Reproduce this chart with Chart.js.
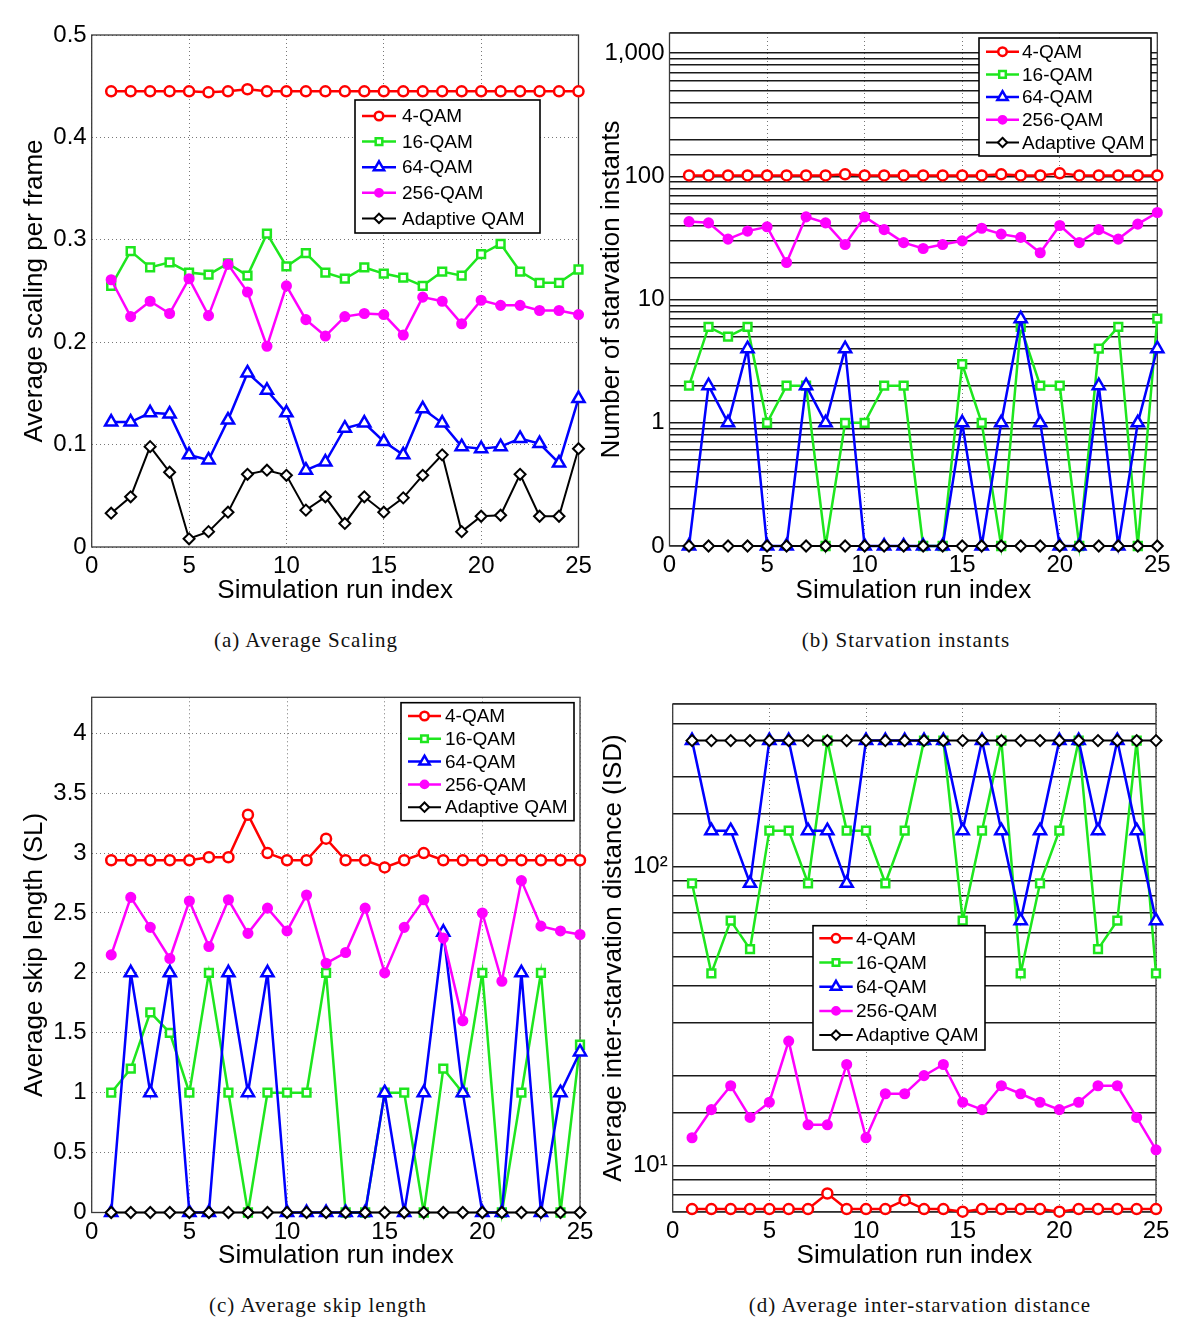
<!DOCTYPE html>
<html>
<head>
<meta charset="utf-8">
<script src="https://cdn.jsdelivr.net/npm/chart.js@4.4.1/dist/chart.umd.min.js"></script>
<style>
  body { margin: 0; background: #fff; width: 1200px; height: 1339px; position: relative; overflow: hidden; }
  canvas { position: absolute; }
  .caption { position: absolute; font-family: "Liberation Serif", "DejaVu Serif", serif; font-size: 21px; letter-spacing: 1px; color: #111; transform: translate(-50%, -50%); white-space: nowrap; }
</style>
</head>
<body>
<canvas id="chartA" width="600" height="620" style="left:0;top:0"></canvas>
<canvas id="chartB" width="610" height="620" style="left:590px;top:0"></canvas>
<canvas id="chartC" width="600" height="620" style="left:0;top:665px"></canvas>
<canvas id="chartD" width="610" height="620" style="left:590px;top:665px"></canvas>
<div class="caption" style="left:306px;top:640px">(a) Average Scaling</div>
<div class="caption" style="left:906px;top:640px">(b) Starvation instants</div>
<div class="caption" style="left:318px;top:1305px">(c) Average skip length</div>
<div class="caption" style="left:920px;top:1305px">(d) Average inter-starvation distance</div>
<script>
const runIndex = [1, 2, 3, 4, 5, 6, 7, 8, 9, 10, 11, 12, 13, 14, 15, 16, 17, 18, 19, 20, 21, 22, 23, 24, 25];
const seriesNames = ['4-QAM', '16-QAM', '64-QAM', '256-QAM', 'Adaptive QAM'];
const runTicks = [0, 5, 10, 15, 20, 25];

// (a) average scaling per frame
const scaling4 = [0.445, 0.445, 0.445, 0.445, 0.445, 0.444, 0.445, 0.447, 0.445, 0.445, 0.445, 0.445, 0.445, 0.445, 0.445, 0.445, 0.445, 0.445, 0.445, 0.445, 0.445, 0.445, 0.445, 0.445, 0.445];
const scaling16 = [0.255, 0.289, 0.273, 0.278, 0.268, 0.266, 0.277, 0.265, 0.306, 0.274, 0.287, 0.268, 0.262, 0.273, 0.267, 0.263, 0.255, 0.269, 0.265, 0.286, 0.296, 0.269, 0.258, 0.258, 0.271];
const scaling64 = [0.122, 0.122, 0.131, 0.130, 0.090, 0.085, 0.124, 0.170, 0.153, 0.131, 0.075, 0.083, 0.116, 0.121, 0.103, 0.090, 0.135, 0.121, 0.098, 0.096, 0.098, 0.106, 0.101, 0.082, 0.145];
const scaling256 = [0.261, 0.225, 0.240, 0.228, 0.262, 0.226, 0.276, 0.249, 0.196, 0.255, 0.222, 0.206, 0.225, 0.228, 0.227, 0.207, 0.244, 0.240, 0.218, 0.241, 0.236, 0.236, 0.231, 0.231, 0.227];
const scalingAdaptive = [0.033, 0.049, 0.098, 0.073, 0.008, 0.015, 0.034, 0.071, 0.075, 0.070, 0.036, 0.049, 0.023, 0.049, 0.034, 0.048, 0.070, 0.090, 0.015, 0.030, 0.031, 0.071, 0.030, 0.030, 0.096];
const scalingTicks = [0, 0.1, 0.2, 0.3, 0.4, 0.5];

// (b) number of starvation instants (0 is drawn at the bottom of the log axis)
const starv4 = [102, 102, 102, 102, 102, 102, 102, 102, 104, 102, 102, 102, 102, 102, 102, 102, 104, 102, 102, 106, 102, 102, 102, 102, 102];
const starv16 = [2, 6, 5, 6, 1, 2, 2, 0, 1, 1, 2, 2, 0, 0, 3, 1, 0, 6, 2, 2, 0, 4, 6, 0, 7];
const starv64 = [0, 2, 1, 4, 0, 0, 2, 1, 4, 0, 0, 0, 0, 0, 1, 0, 1, 7, 1, 0, 0, 2, 0, 1, 4];
const starv256 = [43, 42, 31, 36, 39, 20, 47, 42, 28, 47, 37, 29, 26, 28, 30, 38, 34, 32, 24, 40, 29, 37, 31, 41, 51];
const starvAdaptive = [0, 0, 0, 0, 0, 0, 0, 0, 0, 0, 0, 0, 0, 0, 0, 0, 0, 0, 0, 0, 0, 0, 0, 0, 0];
const starvTicks = [0.1, 1, 10, 100, 1000];
const starvTickLabels = ['0', '1', '10', '100', '1,000'];

// (c) average skip length
const skip4 = [2.94, 2.94, 2.94, 2.94, 2.94, 2.965, 2.965, 3.32, 3.00, 2.94, 2.94, 3.12, 2.94, 2.94, 2.88, 2.94, 3.00, 2.94, 2.94, 2.94, 2.94, 2.94, 2.94, 2.94, 2.94];
const skip16 = [1.0, 1.2, 1.67, 1.5, 1.0, 2.0, 1.0, 0, 1.0, 1.0, 1.0, 2.0, 0, 0, 1.0, 1.0, 0, 1.2, 1.0, 2.0, 0, 1.0, 2.0, 0, 1.4];
const skip64 = [0, 2, 1, 2, 0, 0, 2, 1, 2, 0, 0, 0, 0, 0, 1, 0, 1, 2.34, 1, 0, 0, 2, 0, 1, 1.34];
const skip256 = [2.15, 2.63, 2.38, 2.12, 2.60, 2.22, 2.61, 2.33, 2.54, 2.35, 2.65, 2.08, 2.17, 2.54, 2.00, 2.38, 2.61, 2.29, 1.60, 2.50, 1.93, 2.77, 2.39, 2.35, 2.32];
const skipAdaptive = [0, 0, 0, 0, 0, 0, 0, 0, 0, 0, 0, 0, 0, 0, 0, 0, 0, 0, 0, 0, 0, 0, 0, 0, 0];
const skipTicks = [0, 0.5, 1, 1.5, 2, 2.5, 3, 3.5, 4];

// (d) average inter-starvation distance
const isd4 = [7.16, 7.16, 7.16, 7.16, 7.16, 7.16, 7.16, 8.07, 7.16, 7.16, 7.16, 7.67, 7.16, 7.16, 7.02, 7.16, 7.16, 7.16, 7.16, 7.02, 7.16, 7.16, 7.16, 7.16, 7.16];
const isd16 = [88, 44, 66, 53, 132, 132, 88, 264, 132, 132, 88, 132, 264, 264, 66, 132, 264, 44, 88, 132, 264, 53, 66, 264, 44];
const isd64 = [264, 132, 132, 88, 264, 264, 132, 132, 88, 264, 264, 264, 264, 264, 132, 264, 132, 66, 132, 264, 264, 132, 264, 132, 66];
const isd256 = [12.4, 15.4, 18.5, 14.5, 16.3, 26.1, 13.7, 13.7, 21.8, 12.4, 17.4, 17.4, 20.0, 21.8, 16.3, 15.4, 18.5, 17.4, 16.3, 15.4, 16.3, 18.5, 18.5, 14.5, 11.3];
const isdAdaptive = [264, 264, 264, 264, 264, 264, 264, 264, 264, 264, 264, 264, 264, 264, 264, 264, 264, 264, 264, 264, 264, 264, 264, 264, 264];
const isdTicks = [10, 100];
const isdTickLabels = ['10\u00b9', '10\u00b2'];

const FONT = '"Liberation Sans", Arial, sans-serif';
const seriesStyle = [
  { color: '#ff0000', marker: 'circle', radius: 5, fill: '#ffffff', width: 2.5 },
  { color: '#1ee61e', marker: 'rect', radius: 5.5, fill: '#ffffff', width: 2.5 },
  { color: '#0000ff', marker: 'triangle', radius: 7, fill: '#ffffff', width: 2.5 },
  { color: '#ff00ff', marker: 'circle', radius: 4.3, fill: '#ff00ff', width: 2.5 },
  { color: '#000000', marker: 'rectRot', radius: 5.5, fill: '#ffffff', width: 2 }
];

function drawMarker(ctx, shape, x, y, r) {
  ctx.beginPath();
  if (shape === 'circle') {
    ctx.arc(x, y, r, 0, Math.PI * 2);
  } else if (shape === 'rect') {
    const s = r / Math.SQRT2;
    ctx.rect(x - s, y - s, 2 * s, 2 * s);
  } else if (shape === 'triangle') {
    for (let k = 0; k < 3; k++) {
      const a = k * 2 * Math.PI / 3;
      const px = x + Math.sin(a) * r, py = y - Math.cos(a) * r;
      if (k === 0) ctx.moveTo(px, py); else ctx.lineTo(px, py);
    }
    ctx.closePath();
  } else {
    ctx.moveTo(x, y - r); ctx.lineTo(x + r, y); ctx.lineTo(x, y + r); ctx.lineTo(x - r, y);
    ctx.closePath();
  }
  ctx.fill();
  ctx.stroke();
}

// box around the plot area, like matlab's axes box
const frameBox = {
  id: 'frameBox',
  beforeDatasetsDraw(chart) {
    const a = chart.chartArea, ctx = chart.ctx;
    ctx.save();
    ctx.strokeStyle = '#3a3a3a';
    ctx.lineWidth = 1.3;
    ctx.strokeRect(a.left, a.top, a.right - a.left, a.bottom - a.top);
    ctx.restore();
  }
};

// legend drawn inside the axes at a fixed spot
const boxLegend = {
  id: 'boxLegend',
  afterDraw(chart, args, opts) {
    if (!opts || !opts.box) return;
    const ctx = chart.ctx, b = opts.box;
    ctx.save();
    ctx.fillStyle = '#fff';
    ctx.fillRect(b.x, b.y, b.w, b.h);
    ctx.strokeStyle = '#000';
    ctx.lineWidth = 1.6;
    ctx.strokeRect(b.x, b.y, b.w, b.h);
    ctx.font = '19px ' + FONT;
    ctx.textBaseline = 'middle';
    seriesStyle.forEach((st, i) => {
      const y = opts.rowY + i * opts.rowStep;
      ctx.strokeStyle = st.color;
      ctx.lineWidth = st.width;
      ctx.beginPath();
      ctx.moveTo(opts.x0, y);
      ctx.lineTo(opts.x1, y);
      ctx.stroke();
      ctx.fillStyle = st.fill;
      drawMarker(ctx, st.marker, (opts.x0 + opts.x1) / 2, y, st.radius * 0.85);
      ctx.fillStyle = '#000';
      ctx.fillText(seriesNames[i], opts.textX, y + 1);
    });
    ctx.restore();
  }
};

function makeDatasets(lists, floor) {
  return lists.map((vals, i) => {
    const st = seriesStyle[i];
    return {
      label: seriesNames[i],
      data: runIndex.map((x, j) => ({ x: x, y: (floor !== undefined && vals[j] === 0) ? floor : vals[j] })),
      borderColor: st.color,
      borderWidth: st.width,
      pointStyle: st.marker,
      pointRadius: st.radius,
      pointBorderWidth: st.width,
      pointBorderColor: st.color,
      pointBackgroundColor: st.fill,
      tension: 0,
      clip: false,
      order: 5 - i
    };
  });
}

function tickFont() { return { family: FONT, size: 24 }; }
function titleFont() { return { family: FONT, size: 26 }; }

function xAxis(area, h) {
  return {
    type: 'linear', min: 0, max: 25,
    afterBuildTicks: s => { s.ticks = runTicks.map(v => ({ value: v })); },
    afterFit: s => { s.height = h - area.bottom; },
    grid: { color: '#777', lineWidth: 1, drawTicks: false },
    border: { display: false, dash: [1, 3] },
    ticks: { font: tickFont(), color: '#000', padding: 5, autoSkip: false, maxRotation: 0 },
    title: { display: true, text: 'Simulation run index', font: titleFont(), color: '#000', padding: { top: 14, bottom: 14 } }
  };
}

function buildChart(id, cfg) {
  const canvas = document.getElementById(id);
  const W = canvas.width, H = canvas.height, area = cfg.area;
  const y = Object.assign({
    afterFit: s => { s.width = area.left; },
    ticks: Object.assign({ font: tickFont(), color: '#000', padding: 5, autoSkip: false, callback: v => String(v) }, cfg.yTicks || {}),
    title: { display: true, text: cfg.yTitle, font: titleFont(), color: '#000', padding: { top: cfg.yTitlePad, bottom: 0 } }
  }, cfg.yScale);
  return new Chart(canvas, {
    type: 'line',
    data: { datasets: cfg.datasets },
    options: {
      responsive: false,
      animation: false,
      devicePixelRatio: 1,
      layout: { padding: { left: 0, top: area.top, right: W - area.right, bottom: 0 } },
      plugins: { legend: { display: false }, tooltip: { enabled: false }, boxLegend: cfg.legend },
      scales: { x: xAxis(area, H), y: y }
    },
    plugins: [frameBox, boxLegend]
  });
}

function logLabel(ticks, labels) {
  return v => {
    const k = ticks.findIndex(t => Math.abs(Math.log10(v) - Math.log10(t)) < 1e-6);
    return k >= 0 ? labels[k] : '';
  };
}

// (a)
buildChart('chartA', {
  area: { left: 91.7, right: 578.5, top: 35, bottom: 547 },
  datasets: makeDatasets([scaling4, scaling16, scaling64, scaling256, scalingAdaptive]),
  yTitle: 'Average scaling per frame',
  yTitlePad: 19,
  yScale: {
    type: 'linear', min: 0, max: 0.5,
    afterBuildTicks: s => { s.ticks = scalingTicks.map(v => ({ value: v })); },
    grid: { color: '#777', lineWidth: 1, drawTicks: false },
    border: { display: false, dash: [1, 3] }
  },
  legend: { box: { x: 355, y: 100, w: 185, h: 133 }, rowY: 116, rowStep: 25.6, x0: 362, x1: 396, textX: 402 }
});

// (b)
buildChart('chartB', {
  area: { left: 79.5, right: 567.3, top: 33, bottom: 546 },
  datasets: makeDatasets([starv4, starv16, starv64, starv256, starvAdaptive], starvTicks[0]),
  yTitle: 'Number of starvation instants',
  yTitlePad: 6,
  yTicks: { callback: logLabel(starvTicks, starvTickLabels) },
  yScale: {
    type: 'logarithmic', min: 0.1, max: 1460,
    grid: { color: '#1a1a1a', lineWidth: 1.5, drawTicks: false },
    border: { display: false }
  },
  legend: { box: { x: 389, y: 38, w: 172, h: 118 }, rowY: 51.7, rowStep: 22.7, x0: 396, x1: 429, textX: 432 }
});

// (c)
buildChart('chartC', {
  area: { left: 91.7, right: 580, top: 32.3, bottom: 547.5 },
  datasets: makeDatasets([skip4, skip16, skip64, skip256, skipAdaptive]),
  yTitle: 'Average skip length (SL)',
  yTitlePad: 19,
  yScale: {
    type: 'linear', min: 0, max: 4.3,
    afterBuildTicks: s => { s.ticks = skipTicks.map(v => ({ value: v })); },
    grid: { color: '#777', lineWidth: 1, drawTicks: false },
    border: { display: false, dash: [1, 3] }
  },
  legend: { box: { x: 401, y: 37.7, w: 173, h: 118 }, rowY: 51, rowStep: 22.8, x0: 408, x1: 441, textX: 445 }
});

// (d)
buildChart('chartD', {
  area: { left: 82.7, right: 566, top: 39, bottom: 547 },
  datasets: makeDatasets([isd4, isd16, isd64, isd256, isdAdaptive]),
  yTitle: 'Average inter-starvation distance (ISD)',
  yTitlePad: 8,
  yTicks: { callback: logLabel(isdTicks, isdTickLabels) },
  yScale: {
    type: 'logarithmic', min: 7, max: 350,
    grid: { color: '#1a1a1a', lineWidth: 1.5, drawTicks: false },
    border: { display: false }
  },
  legend: { box: { x: 223, y: 260.7, w: 172, h: 124.3 }, rowY: 273.3, rowStep: 24.2, x0: 229.3, x1: 262.7, textX: 266 }
});
</script>
</body>
</html>
